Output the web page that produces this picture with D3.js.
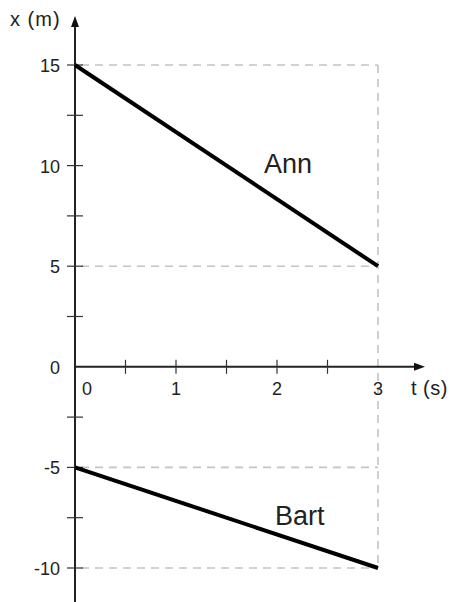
<!DOCTYPE html>
<meta charset="utf-8">
<style>
body { margin: 0; background: #fff; }
text { font-family: "Liberation Sans", Arial, sans-serif; fill: #222; }
.guide { stroke: #c4c4c4; stroke-width: 1.6; stroke-dasharray: 8,6; fill: none; }
</style>
<body>
<script src="https://cdn.jsdelivr.net/npm/d3@7"></script>
<script>

// data
var times = [0, 3];
var annX = [15, 5];
var bartX = [-5, -10];
var names = ["Ann", "Bart"];
var yTickVals = [-10, -7.5, -5, -2.5, 2.5, 5, 7.5, 10, 12.5, 15];
var yLabelVals = [15, 10, 5, 0, -5, -10];
var xTickVals = [0.5, 1, 1.5, 2, 2.5];
var xLabelVals = [0, 1, 2, 3];
var guideYs = [15, 5, -5, -10];

var W = 452, H = 602;

var x = d3.scaleLinear().domain([0, 3]).range([75, 378]);
var y = d3.scaleLinear().domain([15, -10]).range([65, 568]);

var svg = d3.select("body").append("svg")
    .attr("width", W)
    .attr("height", H);

// dashed guides
svg.selectAll(".hguide")
    .data(guideYs)
  .enter().append("line")
    .attr("class", "guide")
    .attr("x1", x(0) + 6)
    .attr("x2", x(3))
    .attr("y1", function(d) { return y(d); })
    .attr("y2", function(d) { return y(d); });

svg.append("line")
    .attr("class", "guide")
    .attr("x1", x(3)).attr("x2", x(3))
    .attr("y1", y(15)).attr("y2", y(-10));

// y axis
svg.append("line")
    .attr("x1", x(0)).attr("x2", x(0))
    .attr("y1", 24).attr("y2", H)
    .attr("stroke", "#222").attr("stroke-width", 2);
svg.append("path")
    .attr("d", "M" + x(0) + ",16 L" + (x(0) - 4) + ",27 L" + (x(0) + 4) + ",27 Z")
    .attr("fill", "#111");

svg.selectAll(".ytick")
    .data(yTickVals)
  .enter().append("line")
    .attr("x1", x(0) - 8)
    .attr("x2", x(0) + 8)
    .attr("y1", function(d) { return y(d); })
    .attr("y2", function(d) { return y(d); })
    .attr("stroke", "#333")
    .attr("stroke-width", 1.2);

svg.selectAll(".ylab")
    .data(yLabelVals)
  .enter().append("text")
    .attr("x", 60)
    .attr("y", function(d) { return y(d) + 7; })
    .attr("text-anchor", "end")
    .attr("font-size", 18)
    .text(function(d) { return d; });

// x axis
svg.append("line")
    .attr("x1", x(0)).attr("x2", 416)
    .attr("y1", y(0)).attr("y2", y(0))
    .attr("stroke", "#222").attr("stroke-width", 2);
svg.append("path")
    .attr("d", "M425," + y(0) + " L414," + (y(0) - 4) + " L414," + (y(0) + 4) + " Z")
    .attr("fill", "#111");

svg.selectAll(".xtick")
    .data(xTickVals)
  .enter().append("line")
    .attr("x1", function(d) { return x(d); })
    .attr("x2", function(d) { return x(d); })
    .attr("y1", y(0) - 7)
    .attr("y2", y(0) + 7)
    .attr("stroke", "#333")
    .attr("stroke-width", 1.2);

svg.selectAll(".xlab")
    .data(xLabelVals)
  .enter().append("text")
    .attr("x", function(d) { return d == 0 ? x(d) + 12 : x(d); })
    .attr("y", y(0) + 28)
    .attr("text-anchor", "middle")
    .attr("font-size", 18)
    .text(function(d) { return d; });

// axis titles
svg.append("text")
    .attr("x", 10).attr("y", 26)
    .attr("font-size", 20)
    .attr("letter-spacing", 1)
    .text("x (m)");
svg.append("text")
    .attr("x", 411).attr("y", y(0) + 28)
    .attr("font-size", 20)
    .attr("letter-spacing", 0.5)
    .text("t (s)");

// motion lines
var line = d3.line()
    .x(function(d) { return x(d[0]); })
    .y(function(d) { return y(d[1]); });

[annX, bartX].forEach(function(s) {
  svg.append("path")
      .datum(d3.zip(times, s))
      .attr("d", line)
      .attr("fill", "none")
      .attr("stroke", "#000")
      .attr("stroke-width", 4);
});

svg.append("text")
    .attr("x", 264).attr("y", 173)
    .attr("font-size", 27)
    .text(names[0]);
svg.append("text")
    .attr("x", 275).attr("y", 525)
    .attr("font-size", 27)
    .text(names[1]);

</script>
</body>
